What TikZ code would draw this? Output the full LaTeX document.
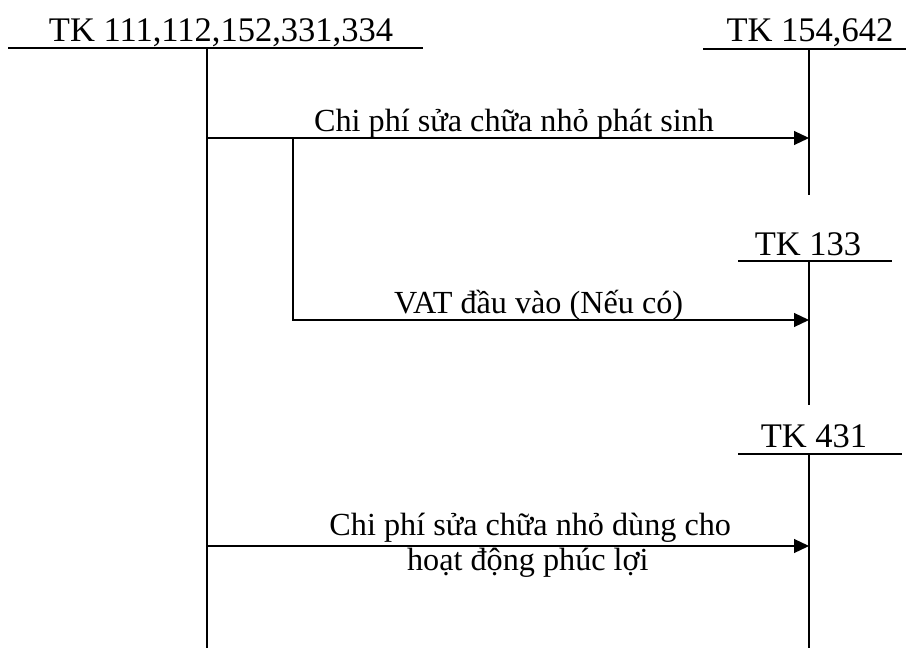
\documentclass[tikz,border=0pt]{standalone}
\usepackage{fontspec}
\setmainfont{Liberation Serif}
\usetikzlibrary{calc}
\usetikzlibrary{positioning}
\usetikzlibrary{arrows.meta}
\tikzset{every node/.style={align=center, inner sep=0pt},
         title/.style={anchor=base,       % account name sits on its line
           font=\fontsize{34.5}{40}\selectfont},
         tline/.style={draw, line width=1.2pt},
         entry/.style={                   % posting from one account to another
           draw, line width=1.2pt,
           -{Triangle[length=15pt,width=14pt]}},
         lbl/.style={anchor=base, font=\fontsize{32.2}{36}\selectfont}}

\begin{document}
\begin{tikzpicture}[x=1pt,y=-1pt]
  \useasboundingbox (0,0) rectangle (906,650);

  \node [title] (tkA) at (221,42) {TK 111,112,152,331,334};
  \node [title] (tkB) at (810,42) {TK 154,642};
  \node [title] (tkC) at (808,255) {TK 133};
  \node [title] (tkD) at (814,447) {TK 431};

  % T shapes
  \coordinate (A) at (207,48);  \coordinate (Aend) at (207,648);
  \coordinate (B) at (809,49);  \coordinate (Bend) at (809,195);
  \coordinate (C) at (809,261); \coordinate (Cend) at (809,405);
  \coordinate (D) at (809,454); \coordinate (Dend) at (809,648);

  \draw [tline] (8,48) -- (423,48);   \draw [tline] (A) -- (Aend);
  \draw [tline] (703,49) -- (906,49); \draw [tline] (B) -- (Bend);
  \draw [tline] (738,261) -- (892,261); \draw [tline] (C) -- (Cend);
  \draw [tline] (738,454) -- (902,454); \draw [tline] (D) -- (Dend);

  % postings
  \coordinate (a1) at (207,138); \coordinate (b1) at (809,138);
  \coordinate (br) at (293,138); \coordinate (c1) at (809,320);
  \coordinate (a3) at (207,546); \coordinate (d1) at (809,546);

  \draw [entry] (a1) -- node[lbl, pos=0.51, yshift=6pt] {Chi phí sửa chữa nhỏ phát sinh} (b1);
  \draw [entry] (br) |- node[lbl, pos=0.738, yshift=7pt] {VAT đầu vào (Nếu có)} (c1);
  \draw [entry] (a3) -- node[lbl, pos=0.537, yshift=11pt] {Chi phí sửa chữa nhỏ dùng cho}
                        node[lbl, pos=0.533, yshift=-24pt] {hoạt động phúc lợi} (d1);

\end{tikzpicture}
\end{document}
